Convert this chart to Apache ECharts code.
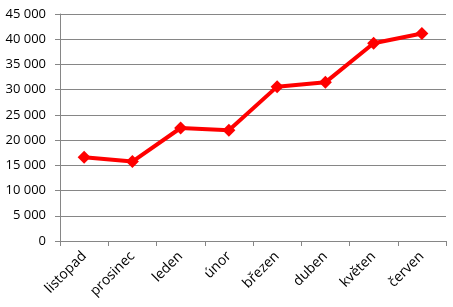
<!DOCTYPE html>
<html><head><meta charset="utf-8">
<script src="https://cdn.jsdelivr.net/npm/echarts@6/dist/echarts.min.js"></script>
<style>html,body{margin:0;padding:0;background:#fff}#c{width:453px;height:307px}</style>
</head><body><div id="c"></div>
<script>
const categories = ['listopad','prosinec','leden','únor','březen','duben','květen','červen'];
const values = [16600, 15750, 22400, 21950, 30600, 31450, 39200, 41150];
const yTicks = { min: 0, max: 45000, interval: 5000 };

function fmt(v){ return String(v).replace(/\B(?=(\d{3})+(?!\d))/g, ' '); }

const chart = echarts.init(document.getElementById('c'), null, {renderer:'canvas'});
chart.setOption({
  animation: false,
  grid: { left: 60, right: 7, top: 14, bottom: 66, containLabel: false },
  xAxis: {
    type: 'category', data: categories, boundaryGap: true,
    axisLine: { lineStyle: { color: '#868686', width: 1 } },
    axisTick: { show: true, length: 5, lineStyle: { color: '#868686' } },
    axisLabel: { rotate: 45, color: '#000', fontSize: 14, fontFamily: 'Open Sans', margin: 13 }
  },
  yAxis: {
    type: 'value', min: yTicks.min, max: yTicks.max, interval: yTicks.interval,
    axisLine: { show: true, lineStyle: { color: '#868686' } },
    axisTick: { show: true, length: 5, lineStyle: { color: '#868686' } },
    splitLine: { lineStyle: { color: '#868686', width: 1 } },
    axisLabel: { color: '#000', fontSize: 13, fontFamily: 'Open Sans', margin: 14, formatter: fmt }
  },
  series: [{
    type: 'line', data: values,
    lineStyle: { color: '#ff0000', width: 4 },
    itemStyle: { color: '#ff0000' },
    symbol: 'diamond', symbolSize: 13
  }]
});
</script></body></html>
